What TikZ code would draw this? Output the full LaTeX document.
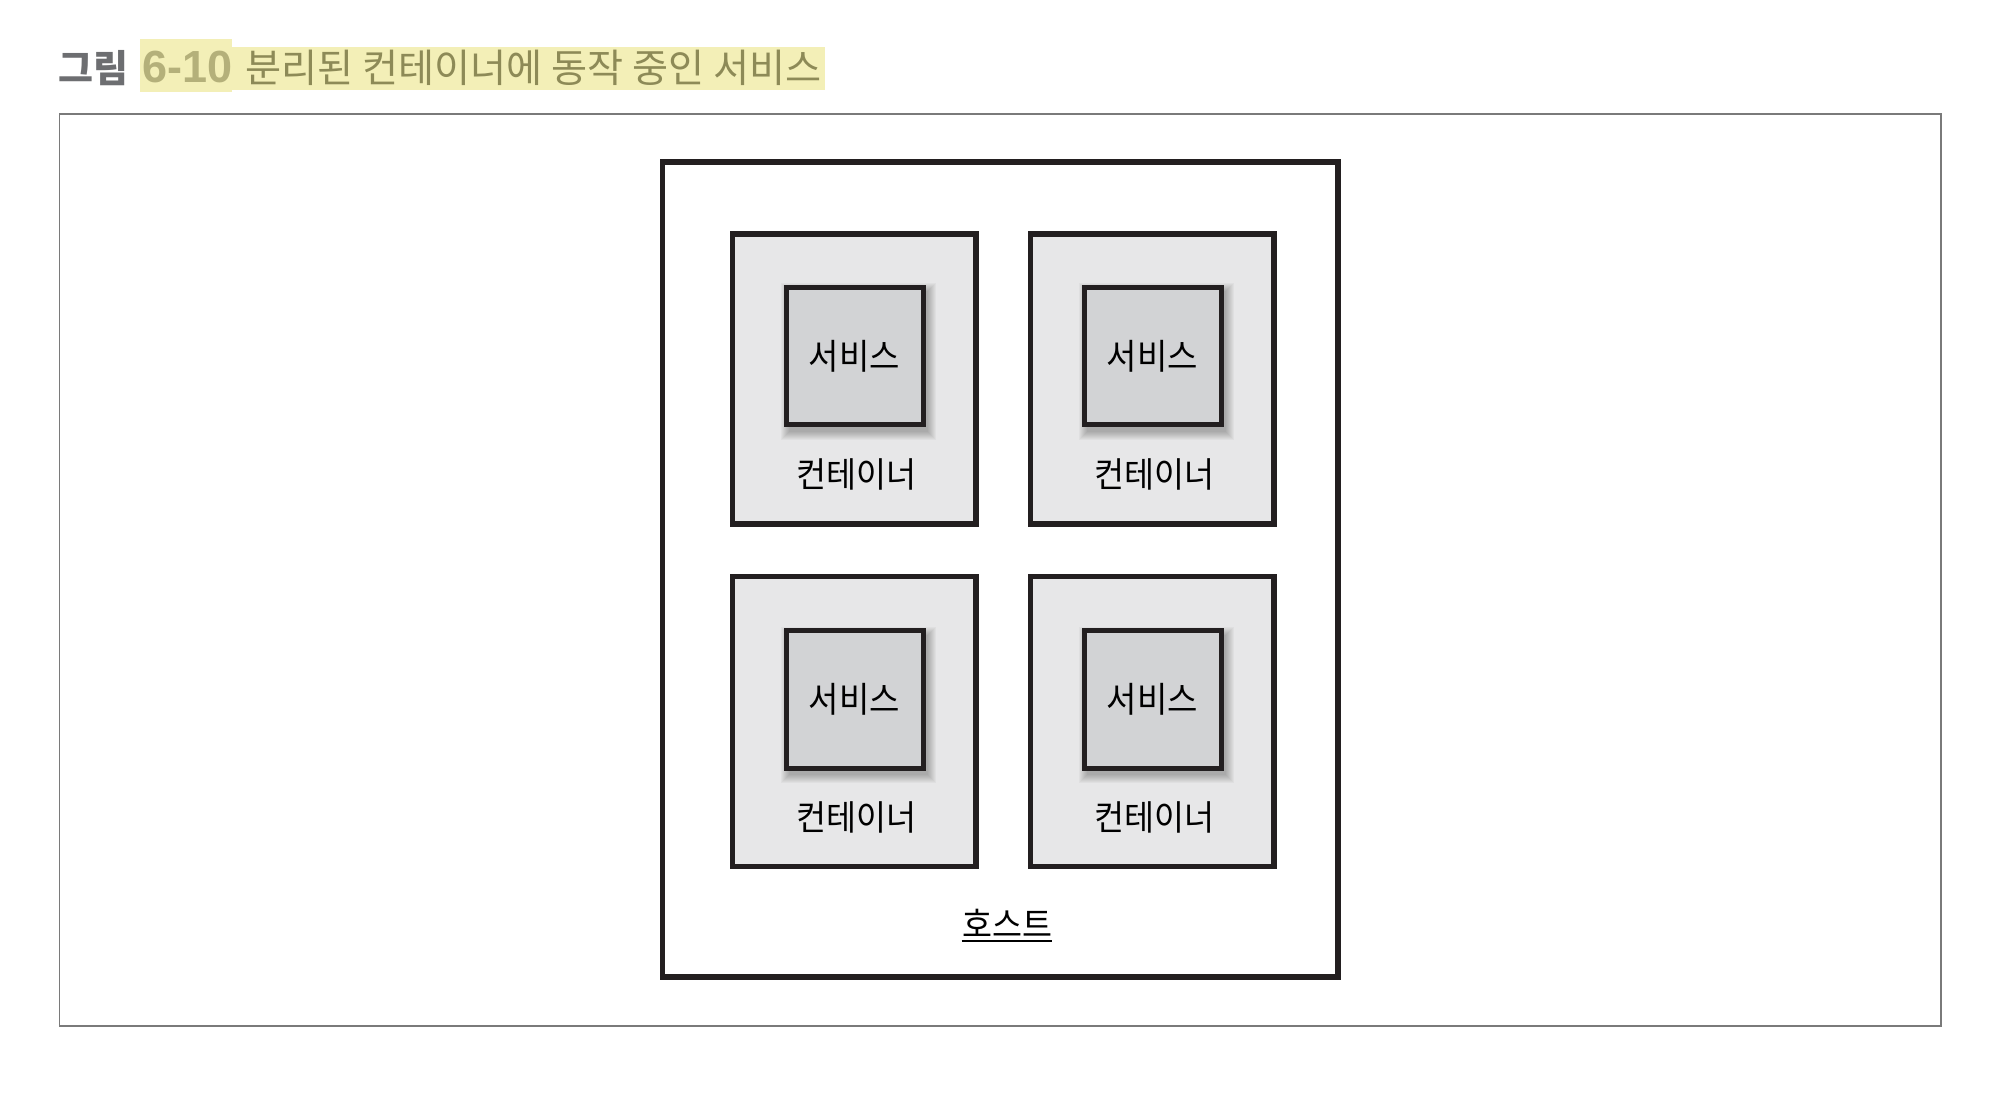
\documentclass[tikz,border=0pt]{standalone}
\usepackage{fontspec}
\newfontfamily\kr{Noto Sans CJK KR}
\newfontfamily\lsans{Liberation Sans}
\definecolor{linec}{HTML}{231F20}
\definecolor{contfill}{HTML}{E7E7E8}
\definecolor{servfill}{HTML}{D2D3D5}
\definecolor{framec}{HTML}{7A7A7A}
\definecolor{hilite}{HTML}{F3EFB7}
\definecolor{figgray}{HTML}{6D6E71}
\definecolor{fignum}{HTML}{B4B07A}
\definecolor{figtext}{HTML}{8D8A57}
\newcommand\svcbox[4]{%
  \foreach \i in {1,...,9}
    \fill[black, opacity=0.03] (#2-68.5+4-\i, #3-68.75+5-\i) rectangle (#2+68.5+4+\i, #3+68.75+6+\i);
  \node[servbox] (#1) at (#2,#3) {\lbltext{#4}};
}
\newcommand\lbltext[1]{\scalebox{1}[1.07]{#1}}
\begin{document}
\begin{tikzpicture}[x=0.5pt,y=-0.5pt,
  hostbox/.style={draw=linec, line width=2.6pt, minimum width=337.75pt, minimum height=407.5pt, inner sep=0pt},
  contbox/.style={draw=linec, fill=contfill, line width=2.7pt, minimum width=121.75pt, minimum height=145pt, inner sep=0pt},
  servbox/.style={draw=linec, fill=servfill, line width=2.5pt, minimum width=68.5pt, minimum height=68.75pt, inner sep=0pt, font=\kr\fontsize{16.5}{19}\selectfont},
  lbl/.style={font=\kr\fontsize{16.3}{19}\selectfont, inner sep=0pt, text=black}]
\useasboundingbox (0,0) rectangle (2001,1095);
% title
\fill[hilite] (140,39) rectangle (232,92);
\fill[hilite] (232,47) rectangle (825,90);
\node[anchor=base west, inner sep=0pt, text=figgray, font=\kr\bfseries\fontsize{19}{21}\selectfont] (tg) at (58,83) {그림};
\node[anchor=base west, inner sep=0pt, text=fignum, font=\lsans\bfseries\fontsize{22.5}{24}\selectfont] (tn) at (142,83) {6-10};
\node[anchor=base west, inner sep=0pt, text=figtext, font=\kr\fontsize{19.6}{21}\selectfont] (tt) at (245,83) {분리된 컨테이너에 동작 중인 서비스};
% outer frame
\draw[framec, line width=0.8pt] (59.3,114.3) rectangle (1940.7,1025.7);
% host
\node[hostbox] (host) at (1000.25,569.5) {};
% containers
\node[contbox] (c11) at (854.25,379) {};
\node[contbox] (c12) at (1152.25,379) {};
\node[contbox] (c21) at (854.25,721.75) {};
\node[contbox] (c22) at (1152.25,721.75) {};
% services
\svcbox{s11}{854.5}{356.25}{서비스}
\svcbox{s12}{1152.5}{356.25}{서비스}
\svcbox{s21}{854.5}{699.5}{서비스}
\svcbox{s22}{1152.5}{699.5}{서비스}
% container labels
\node[lbl] (l11) at (856,474) {\lbltext{컨테이너}};
\node[lbl] (l12) at (1154,474) {\lbltext{컨테이너}};
\node[lbl] (l21) at (856,817) {\lbltext{컨테이너}};
\node[lbl] (l22) at (1154,817) {\lbltext{컨테이너}};
% host label
\node[lbl] (hl) at (1007,923) {\lbltext{호스트}};
\draw[black, line width=1pt] ([yshift=-1.5pt]hl.south west) -- ([yshift=-1.5pt]hl.south east);
\end{tikzpicture}
\end{document}
